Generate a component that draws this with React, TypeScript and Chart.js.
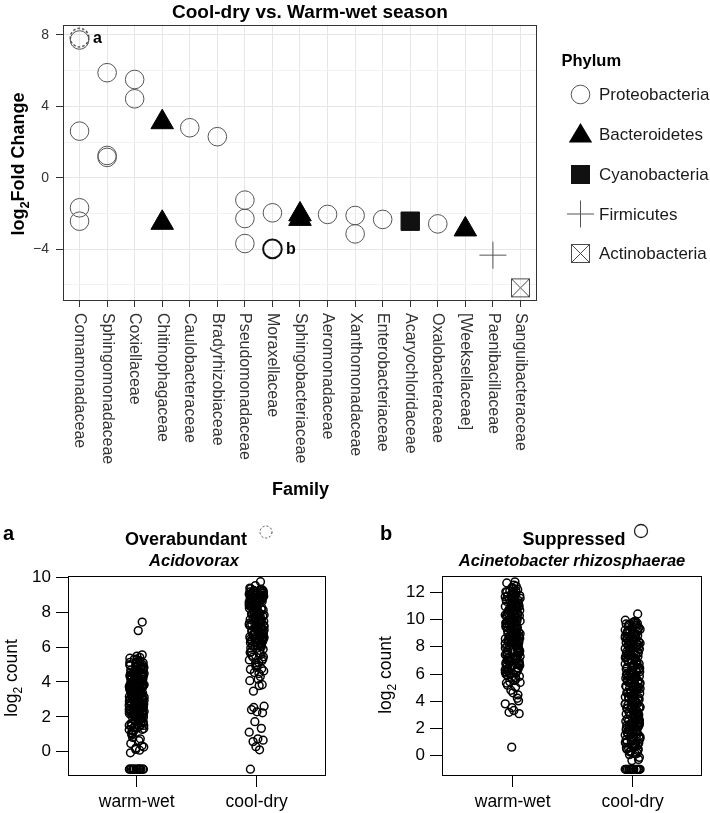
import React, { useEffect, useRef } from 'react';
import { Chart, registerables } from 'chart.js';
Chart.register(...registerables);

const FONT = '"Liberation Sans", Arial, Helvetica, sans-serif';

// ---------- Top panel: log2 fold change by family ----------
const families = [
  'Comamonadaceae', 'Sphingomonadaceae', 'Coxiellaceae', 'Chitinophagaceae', 'Caulobacteraceae',
  'Bradyrhizobiaceae', 'Pseudomonadaceae', 'Moraxellaceae', 'Sphingobacteriaceae', 'Aeromonadaceae',
  'Xanthomonadaceae', 'Enterobacteriaceae', 'Acaryochloridaceae', 'Oxalobacteraceae', '[Weeksellaceae]',
  'Paenibacillaceae', 'Sanguibacteraceae',
];
const phyla = ['Proteobacteria', 'Bacteroidetes', 'Cyanobacteria', 'Firmicutes', 'Actinobacteria'];

const proteoFamilies = [
  'Comamonadaceae', 'Comamonadaceae', 'Comamonadaceae', 'Comamonadaceae',
  'Sphingomonadaceae', 'Sphingomonadaceae', 'Sphingomonadaceae',
  'Coxiellaceae', 'Coxiellaceae', 'Caulobacteraceae', 'Bradyrhizobiaceae',
  'Pseudomonadaceae', 'Pseudomonadaceae', 'Pseudomonadaceae', 'Moraxellaceae',
  'Aeromonadaceae', 'Xanthomonadaceae', 'Xanthomonadaceae', 'Enterobacteriaceae', 'Oxalobacteraceae',
];
const proteoLfc = [7.71, 2.61, -1.68, -2.43, 5.88, 1.25, 1.14, 5.5, 4.42, 2.8, 2.3, -1.25, -2.28, -3.68, -1.96, -2.05, -2.11, -3.14, -2.33, -2.58];

const bacteroFamilies = ['Chitinophagaceae', 'Chitinophagaceae', 'Sphingobacteriaceae', 'Sphingobacteriaceae', '[Weeksellaceae]'];
const bacteroLfc = [3.11, -2.52, -2.05, -2.3, -2.89];

const cyanoFamilies = ['Acaryochloridaceae'];
const cyanoLfc = [-2.43];

const firmiFamilies = ['Paenibacillaceae'];
const firmiLfc = [-4.33];

const actinoFamilies = ['Sanguibacteraceae'];
const actinoLfc = [-6.16];

const highlightFamilies = ['Comamonadaceae', 'Moraxellaceae'];
const highlightLfc = [7.84, -3.98];
const highlightLabels = ['a', 'b'];

const topYTicks = [-6, -4, -2, 0, 2, 4, 6, 8];
const topYLabelled = [-4, 0, 4, 8];

// ---------- Bottom panels: log2 counts by season ----------
const groups = ['warm-wet', 'cool-dry'];
const groupTicks = [1, 2];

const aWarmWet = [
  3.42, 1.87, 4.61, 2.73, 0.96, 3.94, 2.21, 5.12, 1.44, 4.07, 2.98, 3.61, 1.63, 4.83, 2.46, 3.17, 5.41, 2.04, 4.32, 1.21,
  3.76, 2.57, 4.94, 1.78, 3.29, 4.48, 2.33, 5.27, 1.09, 3.87, 2.84, 4.17, 1.52, 3.53, 4.71, 2.12, 5.03, 2.66, 3.08, 4.39,
  1.94, 3.68, 2.41, 4.89, 1.33, 3.22, 4.56, 2.77, 5.36, 1.71, 3.97, 2.28, 4.24, 1.47, 3.39, 4.66, 2.91, 5.19, 2.17, 3.81,
  0.82, 4.11, 2.52, 3.58, 1.99, 4.77, 3.13, 2.38, 5.48, 1.58, 4.43, 2.93, 3.71, 1.26, 4.02, 2.62, 3.47, 5.07, 1.83, 4.29,
  3.02, 2.69, 4.53, 3.33, 2.07, 4.86, 3.89, 2.49, 5.55, 3.56, 3.24, 1.16, 4.14, 2.86, 3.66, 1.69, 4.46, 2.31, 3.92, 2.58,
  2.14, 3.51, 4.72, 1.92, 3.03, 4.26, 2.59, 3.84, 1.39, 4.91, 2.81, 3.37, 4.58, 2.26, 3.73, 1.62, 4.45, 2.97, 3.19, 5.22,
  2.44, 3.96, 1.81, 4.13, 2.68, 3.44, 4.81, 2.03, 3.62, 1.28, 4.35, 2.89, 3.11, 4.97, 2.36, 3.79, 1.55, 4.63, 2.74, 3.27,
  5.31, 1.98, 3.58, 4.19, 2.51, 3.86, 1.74, 4.51, 2.95, 3.41, 4.74, 2.22, 3.68, 1.43, 4.06, 2.64, 3.15, 5.09, 2.39, 3.93,
  1.86, 4.41, 2.79, 3.48, 4.68, 2.09, 3.74, 1.51, 4.27, 2.92, 3.24, 4.99, 2.47, 3.82, 1.67, 4.56, 2.71, 3.36, 5.14, 2.19,
  3.63, 4.09, 2.55, 3.89, 1.91, 4.38, 2.83, 3.29, 4.79, 2.31, 3.54, 1.36, 4.22, 2.99, 3.06, 4.88, 2.42, 3.77, 1.73, 4.49,
  0.21, 0.09, -0.06, 0.34, 0.63, 0.47, 0.74, 0.13, 0.27, 1.02,
  6.94, 7.43,
  -1, -1, -1, -1, -1, -1, -1, -1, -1, -1, -1, -1, -1, -1,
];
const aCoolDry = [
  8.42, 6.87, 9.13, 7.56, 6.21, 8.79, 7.12, 9.31, 6.54, 8.06, 7.83, 6.38, 8.97, 7.34, 6.02, 8.58, 7.69, 9.22, 6.73, 8.24,
  7.91, 6.46, 8.86, 7.21, 9.05, 6.15, 8.33, 7.47, 6.94, 8.71, 7.03, 9.38, 6.61, 8.14, 7.77, 6.29, 8.93, 7.39, 6.08, 8.49,
  7.61, 9.17, 6.79, 8.28, 7.16, 6.43, 8.67, 7.52, 9.26, 6.97, 8.01, 7.28, 6.33, 8.81, 7.72, 6.11, 8.39, 7.08, 9.09, 6.66,
  8.19, 7.44, 6.25, 8.74, 7.87, 9.34, 6.51, 8.53, 7.24, 6.89, 7.98, 8.63, 6.58, 7.41, 8.88, 6.36, 7.66, 9.02, 6.19, 8.31,
  7.36, 8.54, 6.77, 9.11, 7.92, 6.34, 8.27, 7.58, 8.96, 6.63, 7.84, 9.24, 7.13, 8.41, 6.48, 8.77, 7.49, 9.03, 6.91, 8.12,
  7.67, 6.27, 8.69, 7.22, 9.29, 6.84, 8.36, 7.74, 6.53, 8.91, 7.31, 8.04, 6.71, 9.16, 7.54, 8.47, 6.39, 7.97, 8.83, 7.09,
  6.96, 8.23, 7.43, 9.07, 6.57, 8.61, 7.81, 6.22, 8.34, 7.62, 8.99, 7.18, 6.68, 8.52, 7.89, 9.19, 6.44, 8.16, 7.27, 8.74,
  5.87, 5.42, 4.93, 5.66, 4.72, 5.21, 4.48, 5.94, 4.31, 5.09, 4.63, 5.53, 4.16, 3.84, 4.07, 3.79, 3.47, 5.31, 4.84, 5.73,
  5.58, 4.97, 5.26, 5.81, 4.54, 5.44, 6.06, 5.12, 4.76, 5.68,
  9.52, 9.74,
  2.61, 2.54, 2.29, 2.41, 2.23, 1.72, 1.34, 1.12, 0.74, 0.66, 0.58, 0.29, 0.11, -1,
];
const bWarmWet = [
  9.42, 7.18, 11.26, 8.63, 6.41, 10.37, 7.94, 12.04, 8.17, 9.86, 6.83, 11.51, 7.47, 10.09, 8.91, 6.12, 11.83, 9.23, 7.62, 10.68,
  8.38, 12.21, 6.67, 9.64, 10.92, 7.31, 8.79, 11.07, 6.24, 9.08, 10.51, 7.83, 11.67, 8.52, 6.96, 9.97, 12.36, 7.04, 10.26, 8.07,
  11.38, 6.55, 9.31, 10.79, 7.69, 8.96, 11.94, 6.38, 9.77, 10.14, 7.26, 8.44, 11.19, 5.92, 9.53, 10.61, 7.91, 12.13, 8.68, 6.77,
  10.43, 9.18, 7.53, 11.46, 8.27, 6.18, 9.89, 10.84, 7.12, 11.72, 8.83, 6.49, 9.36, 10.33, 12.52, 7.78, 8.58, 11.03, 5.74, 9.69,
  8.12, 10.71, 7.37, 9.14, 11.58, 6.62, 8.47, 10.18, 7.86, 9.47, 11.31, 6.91, 8.74, 10.56, 7.58, 9.92, 8.33, 10.96, 7.07, 9.27,
  10.28, 8.41, 11.62, 7.36, 9.73, 6.59, 10.88, 8.96, 12.11, 7.81, 9.22, 11.17, 6.93, 10.47, 8.24, 11.89, 7.58, 9.61, 10.07, 8.69,
  11.34, 6.47, 9.94, 7.97, 10.63, 8.53, 11.76, 7.14, 9.38, 10.91, 6.81, 8.87, 11.49, 7.66, 9.84, 10.36, 8.11, 12.28, 7.42, 9.11,
  10.74, 6.69, 8.36, 11.08, 7.88, 9.56, 10.19, 8.78, 11.57, 6.99, 9.29, 10.52, 7.51, 8.62, 11.24, 6.31, 9.79, 10.97, 8.03, 11.81,
  7.29, 9.47, 10.41, 8.49, 12.01, 6.74, 9.06, 10.69, 7.71, 8.93, 11.41, 6.16, 9.68, 10.24, 8.29, 11.98, 7.01, 9.33, 10.81, 8.58,
  5.61, 6.07, 5.83, 6.28, 5.52, 6.44, 5.97, 5.71, 6.13, 5.38,
  5.43, 4.62, 5.18, 4.03, 4.81, 4.22, 3.81, 3.32, 3.09, 3.19, 3.53, 5.04, 5.34, 4.47,
  12.77, 12.69, 12.45,
  0.63,
];
const bCoolDry = [
  7.83, 2.41, 9.62, 5.17, 0.76, 8.29, 3.64, 6.92, 1.38, 4.55, 9.11, 7.04, 2.87, 5.91, 0.19, 8.66, 3.22, 6.41, 1.96, 4.08,
  9.88, 7.47, 2.13, 5.63, 0.47, 8.01, 3.91, 6.17, 1.61, 4.79, 9.36, 7.26, 2.62, 5.38, 0.93, 8.48, 3.45, 6.69, 1.12, 4.31,
  9.74, 7.66, 2.29, 5.82, 0.64, 8.83, 3.07, 6.28, 1.79, 4.93, 9.21, 7.91, 2.71, 5.02, 0.31, 8.14, 3.78, 6.53, 1.47, 4.22,
  9.49, 7.14, 2.04, 5.49, 0.86, 8.57, 3.33, 6.81, 1.23, 4.66, 9.03, 7.59, 2.53, 5.71, 0.08, 8.37, 3.56, 6.05, 1.87, 4.44,
  9.95, 7.38, 2.96, 5.26, 0.57, 8.92, 3.13, 6.36, 1.54, 4.87, 9.28, 7.71, 2.18, 5.55, -0.27, 8.21, 3.84, 6.74, 1.31, 4.12,
  9.57, 7.02, 2.79, 5.94, 0.39, 8.74, 3.49, 6.22, 1.69, 4.58, 9.16, 7.53, 2.35, 5.11, 0.71, 8.46, 3.01, 6.61, 1.04, 4.97,
  9.81, 7.19, 2.58, 5.68, -0.12, 8.06, 3.69, 6.47, 1.91, 4.36, 6.88, 5.33, 7.44, 4.02, 8.61, 2.47, 6.12, 3.27, 7.87, 5.76,
  6.31, 1.83, 8.52, 3.97, 0.58, 7.29, 4.71, 2.24, 9.46, 5.58, 1.27, 6.96, 3.38, 8.17, 0.92, 5.21, 7.72, 2.67, 4.43, 9.07,
  1.61, 6.58, 3.81, 8.86, 0.34, 5.84, 7.37, 2.91, 4.16, 9.68, 1.09, 6.14, 3.56, 8.39, 0.71, 5.44, 7.97, 2.36, 4.88, 9.24,
  1.96, 6.76, 3.19, 8.68, 0.12, 5.07, 7.51, 2.79, 4.62, 9.58, 1.42, 6.43, 3.72, 8.04, 0.49, 5.69, 7.11, 2.08, 4.27, 9.33,
  1.71, 6.87, 3.29, 8.79, 0.83, 5.33, 7.83, 2.54, 4.53, 9.14, 1.18, 6.24, 3.93, 8.26, 0.27, 5.96, 7.41, 2.17, 4.74, 9.72,
  1.52, 6.67, 3.47, 8.44, -0.36, 5.13, 7.62, 2.99, 4.09, 8.97, 1.36, 6.05, 3.61, 8.11, 0.62, 5.51, 7.24, 2.43, 4.92, 9.41,
  1.89, 6.49, 3.09, 8.58, 0.97, 5.79, 7.93, 2.61, 4.31, 9.84,
  10.41,
  -1, -1, -1, -1, -1, -1, -1, -1, -1, -1, -1, -1, -1, -1,
];
const jitter = [
  -0.049, 0.030, -0.008, 0.059, -0.040, 0.013, 0.046, -0.057, 0.021, -0.027, 0.051, -0.003, -0.046, 0.036,
  0.006, -0.061, 0.026, -0.019, 0.056, -0.034, 0.017, 0.042, -0.054, -0.011, 0.032, 0.062, -0.024, 0.002,
  -0.043, 0.049, -0.015, 0.039, -0.062, 0.010, 0.054, -0.030, -0.006, 0.024, -0.052, 0.044, 0.019,
];
const aYTicks = [0, 2, 4, 6, 8, 10];
const bYTicks = [0, 2, 4, 6, 8, 10, 12];

// ---------- helpers ----------
const fmtMinus = (v: number) => (v < 0 ? '\u2212' + Math.abs(v) : String(v));

function pts(fams: string[], vals: number[]) {
  return fams.map((f, i) => ({ x: families.indexOf(f), y: vals[i] }));
}

function stripPts(vals: number[], group: number, shift: number) {
  return vals.map((v, i) => ({ x: groupTicks[group] + jitter[(i + shift) % jitter.length], y: v }));
}

function makeDashedCircle(r: number, color: string) {
  const c = document.createElement('canvas');
  const s = Math.ceil(2 * r + 4);
  c.width = s; c.height = s;
  const g = c.getContext('2d')!;
  g.strokeStyle = color; g.lineWidth = 1.3; g.setLineDash([2.6, 2]);
  g.beginPath(); g.arc(s / 2, s / 2, r, 0, Math.PI * 2); g.stroke();
  return c;
}

function makeBoxX(side: number) {
  const c = document.createElement('canvas');
  const s = side + 2;
  c.width = s; c.height = s;
  const g = c.getContext('2d')!;
  g.strokeStyle = '#4a4a4a'; g.lineWidth = 1;
  g.strokeRect(1.5, 1.5, side - 1, side - 1);
  g.beginPath();
  g.moveTo(1.5, 1.5); g.lineTo(side + 0.5, side + 0.5);
  g.moveTo(side + 0.5, 1.5); g.lineTo(1.5, side + 0.5);
  g.stroke();
  return c;
}

function drawLog2(ctx: CanvasRenderingContext2D, cx: number, cy: number, rest: string, size: number, bold: boolean) {
  const b = bold ? 'bold ' : '';
  const base = `${b}${size}px ${FONT}`;
  const sub = `${b}${Math.round(size * 0.7)}px ${FONT}`;
  ctx.font = base;
  const w1 = ctx.measureText('log').width;
  const w3 = ctx.measureText(rest).width;
  ctx.font = sub;
  const w2 = ctx.measureText('2').width;
  const total = w1 + w2 + w3;
  ctx.save();
  ctx.translate(cx, cy);
  ctx.rotate(-Math.PI / 2);
  ctx.textAlign = 'left';
  ctx.textBaseline = 'alphabetic';
  const x0 = -total / 2;
  ctx.font = base; ctx.fillText('log', x0, 0);
  ctx.font = sub; ctx.fillText('2', x0 + w1, size * 0.28);
  ctx.font = base; ctx.fillText(rest, x0 + w1 + w2, 0);
  ctx.restore();
}

export default function App() {
  const topRef = useRef<HTMLCanvasElement>(null);
  const aRef = useRef<HTMLCanvasElement>(null);
  const bRef = useRef<HTMLCanvasElement>(null);

  useEffect(() => {
    Chart.defaults.font.family = FONT;
    const charts: Chart[] = [];
    const dashed = makeDashedCircle(9.3, '#333');
    const boxX = makeBoxX(19);

    const markerKinds = ['circle', 'triangle', 'square', 'cross', 'boxX'];

    // ---------------- top chart ----------------
    const topDecor = {
      id: 'topDecor',
      afterDraw(chart: any) {
        const { ctx, chartArea: a } = chart;
        const xs = chart.scales.x;
        ctx.save();
        ctx.strokeStyle = '#333'; ctx.lineWidth = 1;
        ctx.strokeRect(Math.round(a.left) + 0.5, Math.round(a.top) + 0.5, Math.round(a.right - a.left) - 1, Math.round(a.bottom - a.top));
        ctx.fillStyle = '#000';
        ctx.font = `bold 19px ${FONT}`;
        ctx.textAlign = 'center'; ctx.textBaseline = 'alphabetic';
        ctx.fillText('Cool-dry vs. Warm-wet season', 310, 18);
        drawLog2(ctx, 23.5, 164, 'Fold Change', 18, true);
        ctx.font = `bold 18px ${FONT}`;
        ctx.textAlign = 'center';
        ctx.fillText('Family', 300.5, 494.5);
        // rotated family labels
        ctx.fillStyle = '#333';
        ctx.font = `16px ${FONT}`;
        families.forEach((f, i) => {
          const px = xs.getPixelForValue(i);
          ctx.save();
          ctx.translate(px, 313);
          ctx.rotate(Math.PI / 2);
          ctx.textAlign = 'left'; ctx.textBaseline = 'middle';
          ctx.fillText(f, 0, 0);
          ctx.restore();
        });
        // highlight labels
        const hiIdx = chart.data.datasets.findIndex((d: any) => d.label === 'highlight');
        const meta = chart.getDatasetMeta(hiIdx);
        ctx.fillStyle = '#000';
        ctx.font = `bold 16px ${FONT}`;
        ctx.textAlign = 'left'; ctx.textBaseline = 'middle';
        meta.data.forEach((el: any, j: number) => {
          ctx.fillText(highlightLabels[j], el.x + 13.5, el.y + 1);
        });
        // legend
        ctx.font = `bold 16.5px ${FONT}`;
        ctx.fillText('Phylum', 561.5, 61);
        const ys = [94.5, 134.5, 174.5, 214, 253.5];
        phyla.forEach((p, i) => {
          const cx = 580.5, cy = ys[i];
          const kind = markerKinds[i];
          ctx.save();
          if (kind === 'circle') {
            ctx.strokeStyle = '#555'; ctx.lineWidth = 1;
            ctx.beginPath(); ctx.arc(cx, cy, 9.3, 0, Math.PI * 2); ctx.stroke();
          } else if (kind === 'triangle') {
            const r = 13.5;
            ctx.fillStyle = '#000';
            ctx.beginPath();
            ctx.moveTo(cx, cy - r * 0.85);
            ctx.lineTo(cx + r * 0.866, cy + r * 0.6);
            ctx.lineTo(cx - r * 0.866, cy + r * 0.6);
            ctx.closePath(); ctx.fill();
          } else if (kind === 'square') {
            ctx.fillStyle = '#111';
            ctx.fillRect(cx - 9.5, cy - 9.5, 19, 19);
          } else if (kind === 'cross') {
            ctx.strokeStyle = '#555'; ctx.lineWidth = 1;
            ctx.beginPath();
            ctx.moveTo(cx - 13.5, cy); ctx.lineTo(cx + 13.5, cy);
            ctx.moveTo(cx, cy - 13.5); ctx.lineTo(cx, cy + 13.5);
            ctx.stroke();
          } else {
            ctx.drawImage(boxX, Math.round(cx - boxX.width / 2), Math.round(cy - boxX.height / 2));
          }
          ctx.restore();
          ctx.fillStyle = '#1a1a1a';
          ctx.font = `17px ${FONT}`;
          ctx.textAlign = 'left'; ctx.textBaseline = 'middle';
          ctx.fillText(p, 599, cy + 1);
        });
        ctx.restore();
      },
    };

    const common = { showLine: false, clip: false as any };
    const topChart = new Chart(topRef.current!, {
      type: 'scatter',
      data: {
        datasets: [
          { ...common, label: phyla[0], data: pts(proteoFamilies, proteoLfc), pointStyle: 'circle', pointRadius: 9.3,
            pointBackgroundColor: 'rgba(0,0,0,0)', pointBorderColor: '#555', pointBorderWidth: 1 },
          { ...common, label: phyla[1], data: pts(bacteroFamilies, bacteroLfc), pointStyle: 'triangle', pointRadius: 13,
            pointBackgroundColor: '#000', pointBorderColor: '#000', pointBorderWidth: 1 },
          { ...common, label: phyla[2], data: pts(cyanoFamilies, cyanoLfc), pointStyle: 'rect', pointRadius: 13,
            pointBackgroundColor: '#111', pointBorderColor: '#111', pointBorderWidth: 1 },
          { ...common, label: phyla[3], data: pts(firmiFamilies, firmiLfc), pointStyle: 'cross', pointRadius: 13.5,
            pointBackgroundColor: '#555', pointBorderColor: '#555', pointBorderWidth: 1 },
          { ...common, label: phyla[4], data: pts(actinoFamilies, actinoLfc), pointStyle: boxX as any, pointRadius: 10,
            pointBackgroundColor: '#444', pointBorderColor: '#444', pointBorderWidth: 1 },
          { ...common, label: 'highlight', data: pts(highlightFamilies, highlightLfc),
            pointStyle: [dashed, 'circle'] as any, pointRadius: [10, 9.3] as any,
            pointBackgroundColor: 'rgba(0,0,0,0)', pointBorderColor: '#111', pointBorderWidth: [1, 2] as any },
        ] as any,
      },
      options: {
        responsive: false,
        animation: false,
        events: [],
        layout: { padding: { left: 0, top: 25, right: 173, bottom: 0 } },
        plugins: { legend: { display: false }, tooltip: { enabled: false } },
        scales: {
          x: {
            type: 'linear', min: -0.6, max: 16.6,
            afterBuildTicks: (s: any) => { s.ticks = families.map((_, i) => ({ value: i })); },
            afterFit: (s: any) => { s.height = 200; },
            ticks: { display: false },
            grid: { color: '#e6e6e6', lineWidth: 1, tickLength: 7, tickColor: '#333' },
            border: { display: false },
          },
          y: {
            type: 'linear', min: -6.84, max: 8.55,
            afterBuildTicks: (s: any) => { s.ticks = topYTicks.map((v) => ({ value: v })); },
            afterFit: (s: any) => { s.width = 63; },
            ticks: {
              font: { size: 14 }, color: '#333', padding: 7,
              callback: (v: any) => (topYLabelled.includes(Number(v)) ? fmtMinus(Number(v)) : ''),
            },
            grid: {
              color: (c: any) => (c.tick && topYLabelled.includes(c.tick.value) ? '#e6e6e6' : '#f2f2f2'),
              lineWidth: 1, tickLength: 7,
              tickColor: (c: any) => (c.tick && topYLabelled.includes(c.tick.value) ? '#333' : 'rgba(0,0,0,0)'),
            },
            border: { display: false },
          },
        },
      } as any,
      plugins: [topDecor],
    });
    charts.push(topChart);

    // ---------------- bottom charts ----------------
    function bottomDecor(cfg: any) {
      return {
        id: 'bottomDecor' + cfg.letter,
        afterDraw(chart: any) {
          const { ctx, chartArea: a } = chart;
          ctx.save();
          ctx.strokeStyle = '#000'; ctx.lineWidth = 1;
          ctx.strokeRect(Math.round(a.left) + 0.5, Math.round(a.top) + 0.5, Math.round(a.right - a.left) - 1, Math.round(a.bottom - a.top) - 1);
          ctx.fillStyle = '#000';
          ctx.textBaseline = 'alphabetic';
          ctx.textAlign = 'left';
          ctx.font = `bold 20px ${FONT}`;
          ctx.fillText(cfg.letter, cfg.letterX, 40);
          ctx.textAlign = 'center';
          ctx.font = `bold 18px ${FONT}`;
          ctx.fillText(cfg.title, cfg.titleX, 45);
          ctx.font = `italic bold 16.5px ${FONT}`;
          ctx.fillText(cfg.subtitle, cfg.subtitleX, 66);
          ctx.beginPath();
          if (cfg.dashed) { ctx.setLineDash([2, 2]); ctx.strokeStyle = '#444'; ctx.lineWidth = 1; }
          else { ctx.strokeStyle = '#222'; ctx.lineWidth = 1.3; }
          ctx.arc(cfg.markerX, cfg.markerY, cfg.markerR, 0, Math.PI * 2);
          ctx.stroke();
          ctx.setLineDash([]);
          ctx.fillStyle = '#000';
          drawLog2(ctx, cfg.yTitleX, cfg.yTitleY, ' count', 17.5, false);
          ctx.restore();
        },
      };
    }

    function stripChart(canvas: HTMLCanvasElement, warm: number[], cool: number[], yMin: number, yMax: number,
      yTicks: number[], xMin: number, leftW: number, rightPad: number, decor: any) {
      const style = {
        showLine: false, pointStyle: 'circle', pointRadius: 3.9, pointBorderWidth: 1.5,
        pointBackgroundColor: 'rgba(0,0,0,0)', pointBorderColor: '#000', clip: false,
      };
      return new Chart(canvas, {
        type: 'scatter',
        data: {
          datasets: [
            { ...style, label: groups[0], data: stripPts(warm, 0, 0) },
            { ...style, label: groups[1], data: stripPts(cool, 1, 17) },
          ] as any,
        },
        options: {
          responsive: false,
          animation: false,
          events: [],
          layout: { padding: { left: 0, top: 76, right: rightPad, bottom: 0 } },
          plugins: { legend: { display: false }, tooltip: { enabled: false } },
          scales: {
            x: {
              type: 'linear', min: xMin, max: 2.578,
              afterBuildTicks: (s: any) => { s.ticks = groupTicks.map((v) => ({ value: v })); },
              afterFit: (s: any) => { s.height = 37; },
              ticks: {
                font: { size: 17.5 }, color: '#000', padding: 5, maxRotation: 0, autoSkip: false,
                callback: (v: any) => groups[groupTicks.indexOf(Number(v))] ?? '',
              },
              grid: { drawOnChartArea: false, tickLength: 11, tickColor: '#000', lineWidth: 1 },
              border: { display: false },
            },
            y: {
              type: 'linear', min: yMin, max: yMax,
              afterBuildTicks: (s: any) => { s.ticks = yTicks.map((v) => ({ value: v })); },
              afterFit: (s: any) => { s.width = leftW; },
              ticks: { font: { size: 17 }, color: '#000', padding: 5 },
              grid: { drawOnChartArea: false, tickLength: 12, tickColor: '#000', lineWidth: 1 },
              border: { display: false },
            },
          },
        } as any,
        plugins: [decor],
      });
    }

    charts.push(stripChart(aRef.current!, aWarmWet, aCoolDry, -1.39, 10.07, aYTicks, 0.4275, 68, 29,
      bottomDecor({
        letter: 'a', letterX: 3, title: 'Overabundant', titleX: 186, subtitle: 'Acidovorax', subtitleX: 194,
        dashed: true, markerX: 266, markerY: 32, markerR: 6, yTitleX: 17, yTitleY: 178,
      })));
    charts.push(stripChart(bRef.current!, bWarmWet, bCoolDry, -1.49, 13.2, bYTicks, 0.411, 87, 8,
      bottomDecor({
        letter: 'b', letterX: 25, title: 'Suppressed', titleX: 219, subtitle: 'Acinetobacter rhizosphaerae', subtitleX: 217,
        dashed: false, markerX: 286, markerY: 31, markerR: 6.5, yTitleX: 36, yTitleY: 175,
      })));

    return () => { charts.forEach((c) => c.destroy()); };
  }, []);

  return (
    <div style={{ position: 'absolute', left: 0, top: 0, width: 710, height: 813, background: '#fff', overflow: 'hidden' }}>
      <canvas ref={topRef} width={710} height={500} style={{ position: 'absolute', left: 0, top: 0 }} />
      <canvas ref={aRef} width={355} height={313} style={{ position: 'absolute', left: 0, top: 500 }} />
      <canvas ref={bRef} width={355} height={313} style={{ position: 'absolute', left: 355, top: 500 }} />
    </div>
  );
}
